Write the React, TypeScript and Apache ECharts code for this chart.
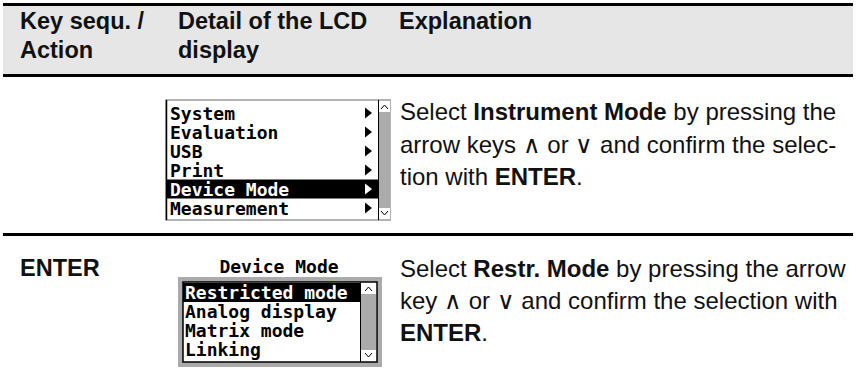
import React, { useEffect, useRef } from "react";
import * as echarts from "echarts";

// ---- content ----
const headerLabels: string[][] = [["Key sequ. /", "Action"], ["Detail of the LCD", "display"], ["Explanation"]];
const actionLabels: string[] = ["", "ENTER"];
const menuItems1: string[] = ["System", "Evaluation", "USB", "Print", "Device Mode", "Measurement"];
const selected1 = 4;
const menuTitle2 = "Device Mode";
const menuItems2: string[] = ["Restricted mode", "Analog display", "Matrix mode", "Linking"];
const selected2 = 0;
const explanation1: string[] = [
  "Select {b|Instrument Mode} by pressing the",
  "arrow keys ∧ or ∨ and confirm the selec-",
  "tion with {b|ENTER}.",
];
const explanation2: string[] = [
  "Select {b|Restr. Mode} by pressing the arrow",
  "key ∧ or ∨ and confirm the selection with",
  "{b|ENTER}.",
];

const SANS = '"Liberation Sans", Arial, Helvetica, sans-serif';
const MONO = '"DejaVu Sans Mono", monospace';
const INK = "#111111";
const STIPPLE = "#ababab";

function buildGraphics(): any[] {
  const g: any[] = [];
  const L = 3, R = 853;
  // header
  g.push({ type: "rect", shape: { x: L, y: 6, width: R - L, height: 68 }, style: { fill: "#e6e6e6" } });
  g.push({ type: "rect", shape: { x: L, y: 3, width: R - L, height: 3 }, style: { fill: "#000" } });
  g.push({ type: "rect", shape: { x: L, y: 74, width: R - L, height: 3 }, style: { fill: "#000" } });
  g.push({ type: "rect", shape: { x: L, y: 233, width: R - L, height: 3 }, style: { fill: "#000" } });
  const colX = [20, 178, 399];
  headerLabels.forEach((lines, c) => {
    lines.forEach((t, i) => {
      g.push({
        type: "text", x: colX[c], y: 21 + i * 29,
        style: { text: t, fill: INK, fontFamily: SANS, fontWeight: "bold", fontSize: 23.5, verticalAlign: "middle", align: "left" },
      });
    });
  });
  // action column
  const rowTextY = [[111, 144, 176], [268, 300, 332]];
  actionLabels.forEach((t, r) => {
    if (!t) return;
    g.push({
      type: "text", x: 20, y: rowTextY[r][0],
      style: { text: t, fill: INK, fontFamily: SANS, fontWeight: "bold", fontSize: 23.5, verticalAlign: "middle" },
    });
  });
  // explanation text
  const rich = { b: { fontFamily: SANS, fontWeight: "bold", fontSize: 24, fill: INK } };
  [explanation1, explanation2].forEach((lines, r) => {
    lines.forEach((t, i) => {
      g.push({
        type: "text", x: 400, y: rowTextY[r][i],
        style: { text: t, fill: INK, fontFamily: SANS, fontSize: 24, verticalAlign: "middle", rich },
      });
    });
  });

  // ---- LCD 1 ----
  const b1 = { x0: 166, x1: 390, y0: 100, y1: 220, sx: 378, rowTop: 103.5, rowH: 19 };
  g.push({ type: "rect", shape: { x: b1.x0, y: b1.y0, width: b1.x1 - b1.x0, height: b1.y1 - b1.y0 }, style: { fill: "#fff", stroke: "#9a9a9a", lineWidth: 1.5 } });
  g.push({ type: "line", shape: { x1: b1.x0 + 0.5, y1: b1.y0, x2: b1.x0 + 0.5, y2: b1.y1 }, style: { stroke: "#000", lineWidth: 1.5 } });
  // scrollbar
  g.push({ type: "rect", shape: { x: b1.sx, y: b1.y0 + 1, width: b1.x1 - b1.sx, height: b1.y1 - b1.y0 - 2 }, style: { fill: STIPPLE } });
  g.push({ type: "rect", shape: { x: b1.sx + 1, y: b1.y0 + 1, width: b1.x1 - b1.sx - 1, height: 11 }, style: { fill: "#fff" } });
  g.push({ type: "rect", shape: { x: b1.sx + 1, y: b1.y1 - 12, width: b1.x1 - b1.sx - 1, height: 11 }, style: { fill: "#fff" } });
  g.push({ type: "line", shape: { x1: b1.sx + 0.5, y1: b1.y0, x2: b1.sx + 0.5, y2: b1.y1 }, style: { stroke: "#000", lineWidth: 1 } });
  const cx1 = (b1.sx + b1.x1) / 2 + 0.5;
  g.push({ type: "polyline", shape: { points: [[cx1 - 3.5, b1.y0 + 9], [cx1, b1.y0 + 5], [cx1 + 3.5, b1.y0 + 9]] }, style: { stroke: "#000", lineWidth: 1, fill: "none" } });
  g.push({ type: "polyline", shape: { points: [[cx1 - 3.5, b1.y1 - 9], [cx1, b1.y1 - 5], [cx1 + 3.5, b1.y1 - 9]] }, style: { stroke: "#000", lineWidth: 1, fill: "none" } });
  menuItems1.forEach((t, i) => {
    const top = b1.rowTop + i * b1.rowH;
    const cy = top + b1.rowH / 2;
    const sel = i === selected1;
    if (sel) g.push({ type: "rect", shape: { x: b1.x0 + 1, y: top, width: b1.sx - b1.x0 - 1, height: b1.rowH }, style: { fill: "#000" } });
    g.push({
      type: "text", x: 170, y: cy,
      style: { text: t, fill: sel ? "#fff" : "#000", fontFamily: MONO, fontWeight: "bold", fontSize: 18, verticalAlign: "middle" },
    });
    g.push({ type: "polygon", shape: { points: [[365, cy - 5.5], [372, cy], [365, cy + 5.5]] }, style: { fill: sel ? "#fff" : "#000" } });
  });

  // ---- LCD 2 ----
  g.push({
    type: "text", x: 279, y: 266,
    style: { text: menuTitle2, fill: "#000", fontFamily: MONO, fontWeight: "bold", fontSize: 18, verticalAlign: "middle", align: "center" },
  });
  const b2 = { x0: 178, x1: 382, y0: 277, y1: 367, fw: 5, sx: 360, rowTop: 283, rowH: 19 };
  g.push({ type: "rect", shape: { x: b2.x0, y: b2.y0, width: b2.x1 - b2.x0, height: b2.y1 - b2.y0 }, style: { fill: STIPPLE } });
  const ix0 = b2.x0 + b2.fw, ix1 = b2.x1 - b2.fw, iy0 = b2.y0 + b2.fw, iy1 = b2.y1 - b2.fw;
  g.push({ type: "rect", shape: { x: ix0, y: iy0, width: ix1 - ix0, height: iy1 - iy0 }, style: { fill: "#fff", stroke: "#000", lineWidth: 1.5 } });
  g.push({ type: "rect", shape: { x: b2.sx, y: iy0 + 1, width: ix1 - b2.sx - 1, height: iy1 - iy0 - 2 }, style: { fill: STIPPLE } });
  g.push({ type: "rect", shape: { x: b2.sx + 1, y: iy0 + 1, width: ix1 - b2.sx - 2, height: 11 }, style: { fill: "#fff" } });
  g.push({ type: "rect", shape: { x: b2.sx + 1, y: iy1 - 12, width: ix1 - b2.sx - 2, height: 11 }, style: { fill: "#fff" } });
  g.push({ type: "line", shape: { x1: b2.sx + 0.5, y1: iy0, x2: b2.sx + 0.5, y2: iy1 }, style: { stroke: "#000", lineWidth: 1 } });
  const cx2 = (b2.sx + ix1) / 2;
  g.push({ type: "polyline", shape: { points: [[cx2 - 3.5, iy0 + 9], [cx2, iy0 + 5], [cx2 + 3.5, iy0 + 9]] }, style: { stroke: "#000", lineWidth: 1, fill: "none" } });
  g.push({ type: "polyline", shape: { points: [[cx2 - 3.5, iy1 - 9], [cx2, iy1 - 5], [cx2 + 3.5, iy1 - 9]] }, style: { stroke: "#000", lineWidth: 1, fill: "none" } });
  menuItems2.forEach((t, i) => {
    const top = b2.rowTop + i * b2.rowH;
    const cy = top + b2.rowH / 2;
    const sel = i === selected2;
    if (sel) g.push({ type: "rect", shape: { x: ix0, y: top, width: b2.sx - ix0, height: b2.rowH }, style: { fill: "#000" } });
    g.push({
      type: "text", x: 185, y: cy,
      style: { text: t, fill: sel ? "#fff" : "#000", fontFamily: MONO, fontWeight: "bold", fontSize: 18, verticalAlign: "middle" },
    });
  });
  return g;
}

export default function App() {
  const ref = useRef<HTMLDivElement>(null);
  useEffect(() => {
    document.body.style.margin = "0";
    if (!ref.current) return;
    const chart = echarts.init(ref.current, undefined, { renderer: "svg" });
    chart.setOption({
      animation: false,
      backgroundColor: "#ffffff",
      graphic: { elements: buildGraphics() },
    });
    return () => chart.dispose();
  }, []);
  return <div ref={ref} style={{ width: 856, height: 381 }} />;
}
